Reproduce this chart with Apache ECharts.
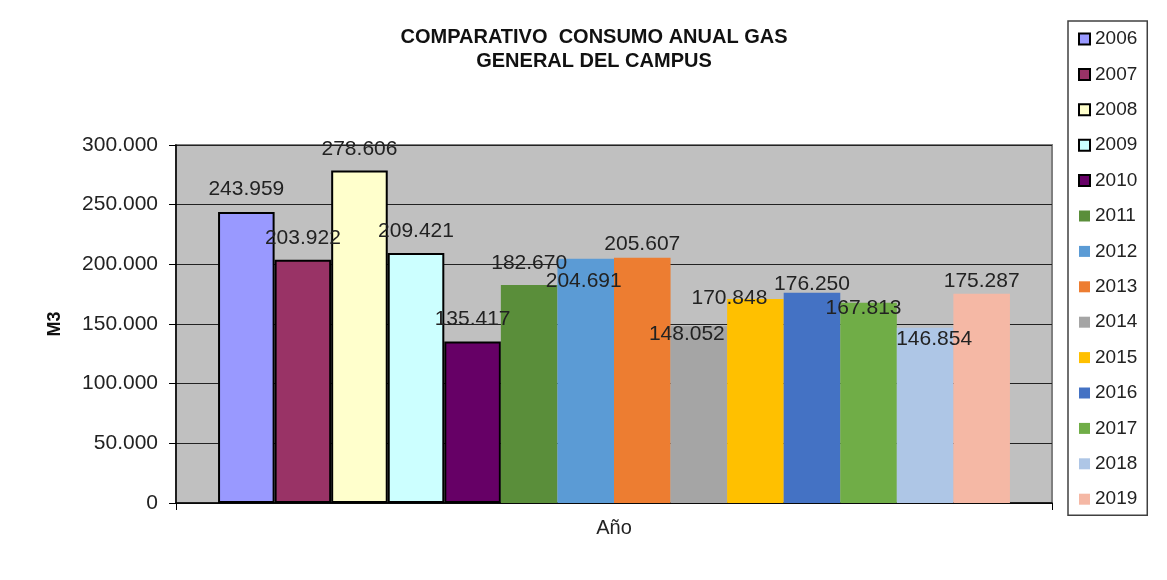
<!DOCTYPE html>
<html>
<head>
<meta charset="utf-8">
<script src="https://cdn.jsdelivr.net/npm/echarts@6/dist/echarts.min.js"></script>
<style>
  html, body { margin: 0; padding: 0; background: #fff; }
  #chart { width: 1167px; height: 580px; }
</style>
</head>
<body>
<div id="chart"></div>
<script>
// data
const years = ['2006', '2007', '2008', '2009', '2010', '2011', '2012',
  '2013', '2014', '2015', '2016', '2017', '2018', '2019'];
const consumo = [243959, 203922, 278606, 209421, 135417, 182670, 204691,
  205607, 148052, 170848, 176250, 167813, 146854, 175287];
const categoria = ['Año'];
const yTicks = [0, 50000, 100000, 150000, 200000, 250000, 300000];

const colors = ['#9999FF', '#993366', '#FFFFCC', '#CCFFFF', '#660066',
  '#5A8E3A', '#5B9BD5', '#ED7D31', '#A5A5A5', '#FFC000', '#4472C4',
  '#70AD47', '#AEC6E6', '#F5B8A5'];
// label nudges, like the hand-moved labels in the original
const labelOffsets = [[0, -12], [0, -11], [0, -11], [0, -11], [0, -12],
  [0, -11], [-2, 33], [0, -3], [-12, 18], [-26, 10], [0, 2], [-5, 16],
  [9, 22], [0, -2]];

function fmt(v) {
  return String(v).replace(/\B(?=(\d{3})+(?!\d))/g, '.');
}

const chart = echarts.init(document.getElementById('chart'));

const series = years.map((y, i) => {
  const bordered = i < 5;
  return {
    name: y,
    type: 'bar',
    data: [consumo[i]],
    barGap: '0%',
    barCategoryGap: '9.6%',
    itemStyle: {
      color: colors[i],
      borderColor: bordered ? '#000' : colors[i],
      borderWidth: bordered ? 2 : 0,
    },
    label: {
      show: true,
      position: 'top',
      distance: 0,
      offset: labelOffsets[i],
      formatter: (p) => fmt(p.value),
      fontSize: 21,
      color: '#222',
    },
  };
});

const ops = {
  animation: false,
  textStyle: {fontFamily: 'Liberation Sans, Arial, sans-serif'},
  title: {
    text: 'COMPARATIVO  CONSUMO ANUAL GAS\nGENERAL DEL CAMPUS',
    left: 589,
    top: 20,
    textAlign: 'center',
    textStyle: {
      fontSize: 20,
      fontWeight: 'bold',
      color: '#111',
      lineHeight: 24,
    },
  },
  legend: {
    orient: 'vertical',
    left: 1068,
    top: 21,
    padding: [8, 10, 6, 10],
    itemWidth: 11,
    itemHeight: 11,
    itemGap: 15.4,
    icon: 'rect',
    borderColor: '#404040',
    borderWidth: 1.5,
    textStyle: {fontSize: 19, color: '#222', lineHeight: 20},
    data: years.map((y, i) => ({
      name: y,
      itemStyle: i < 5 ? {borderColor: '#000', borderWidth: 2} : {borderWidth: 0},
    })),
  },
  grid: {
    left: 176,
    right: 115,
    top: 145,
    bottom: 77,
    show: true,
    backgroundColor: '#C0C0C0',
    borderColor: '#808080',
    borderWidth: 2,
  },
  xAxis: {
    type: 'category',
    data: categoria,
    axisLine: {lineStyle: {color: '#000', width: 1.5}},
    axisTick: {show: true, length: 7, lineStyle: {color: '#000'}},
    axisLabel: {fontSize: 20, color: '#222', margin: 15},
  },
  yAxis: {
    type: 'value',
    min: yTicks[0],
    max: yTicks[yTicks.length - 1],
    interval: yTicks[1] - yTicks[0],
    name: 'M3',
    nameLocation: 'middle',
    nameRotate: 90,
    nameGap: 112,
    nameTextStyle: {fontSize: 18, fontWeight: 'bold', color: '#111'},
    axisLine: {show: true, lineStyle: {color: '#000', width: 1.5}},
    axisTick: {show: true, length: 7, lineStyle: {color: '#000'}},
    axisLabel: {
      fontSize: 21,
      color: '#222',
      margin: 18,
      formatter: (v) => fmt(v),
    },
    splitLine: {lineStyle: {color: '#222', width: 1}},
  },
  series: series,
};

chart.setOption(ops);
</script>
</body>
</html>
